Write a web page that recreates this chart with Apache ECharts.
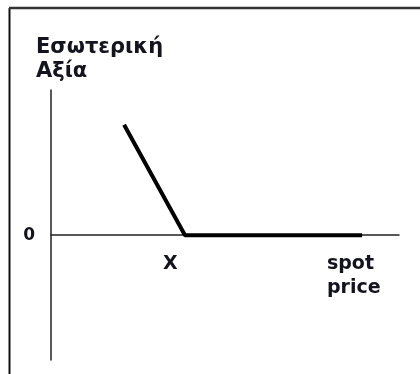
<!DOCTYPE html>
<html>
<head>
    <meta charset="utf-8">
    <title>Εσωτερική Αξία</title>
    <script src="https://cdn.jsdelivr.net/npm/echarts@6/dist/echarts.min.js"></script>
    <style>
        html, body { margin: 0; padding: 0; background: #fff; }
        #chart { width: 420px; height: 374px; }
    </style>
</head>
<body>
    <div id="chart"></div>
    <script>
    // payoff points: spot price -> intrinsic value
    var spot = [21, 38.5, 89.4];
    var value = [38, 0, 0];
    // label anchors (left edge of each label)
    var xTickValues = [32.2, 79.3];
    var xTickLabels = ['X', 'spot\nprice'];
    var yTickValues = [0];
    var yTickLabels = ['0'];

    var chart = echarts.init(document.getElementById('chart'));
    var font = 'DejaVu Sans';
    chart.setOption({
        animation: false,
        title: {
            text: 'Εσωτερική\nΑξία',
            left: 31,
            top: 31,
            textStyle: {
                fontFamily: font,
                fontSize: 21,
                fontWeight: 'bold',
                color: '#14141e',
                lineHeight: 24
            }
        },
        grid: {
            left: 51,
            right: 21,
            top: 90,
            bottom: 14,
            outerBoundsMode: 'none',
            containLabel: false
        },
        xAxis: {
            type: 'value',
            min: 0,
            max: 100,
            offset: -125,
            splitLine: { show: false },
            axisTick: { show: false },
            axisLine: { onZero: false, lineStyle: { color: '#222', width: 1.5 } },
            axisLabel: {
                customValues: xTickValues,
                formatter: function (v) {
                    return xTickLabels[xTickValues.indexOf(v)];
                },
                margin: 17,
                align: 'left',
                verticalAlign: 'top',
                fontFamily: font,
                fontSize: 19,
                fontWeight: 'bold',
                lineHeight: 24,
                color: '#14141e'
            }
        },
        yAxis: {
            type: 'value',
            min: -43,
            max: 50,
            splitLine: { show: false },
            axisTick: { show: false },
            axisLine: { show: true, lineStyle: { color: '#222', width: 1.5 } },
            axisLabel: {
                customValues: yTickValues,
                formatter: function (v) {
                    return yTickLabels[yTickValues.indexOf(v)];
                },
                margin: 16,
                fontFamily: font,
                fontSize: 17,
                fontWeight: 'bold',
                color: '#14141e'
            }
        },
        series: [{
            type: 'line',
            data: spot.map(function (s, i) { return [s, value[i]]; }),
            symbol: 'none',
            lineStyle: { color: '#000', width: 4 }
        }],
        graphic: [
            { type: 'line', shape: { x1: 9.5, y1: 8, x2: 9.5, y2: 374 }, style: { stroke: '#111', lineWidth: 2 } },
            { type: 'line', shape: { x1: 9, y1: 8, x2: 420, y2: 8 }, style: { stroke: '#333', lineWidth: 2.5 } }
        ]
    });
    </script>
</body>
</html>
